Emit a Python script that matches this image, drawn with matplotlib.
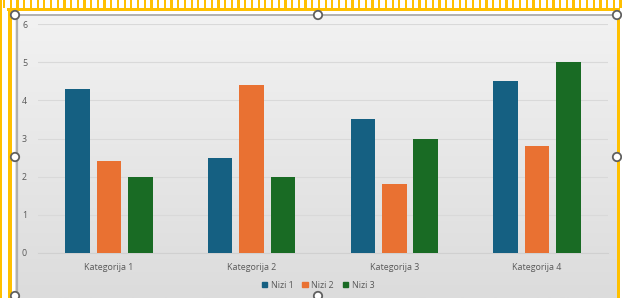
import matplotlib
matplotlib.use("Agg")
import matplotlib.pyplot as plt
import numpy as np
from matplotlib.patches import Rectangle, Circle
from matplotlib.colors import LinearSegmentedColormap

categories = ["Kategorija 1", "Kategorija 2", "Kategorija 3", "Kategorija 4"]
series_names = ["Nizi 1", "Nizi 2", "Nizi 3"]
nizi1 = [4.3, 2.5, 3.5, 4.5]
nizi2 = [2.4, 4.4, 1.8, 2.8]
nizi3 = [2.0, 2.0, 3.0, 5.0]
yticks = [0, 1, 2, 3, 4, 5, 6]
colors = ["#156082", "#E97132", "#196B24"]

plt.rcParams['font.family'] = ['Open Sans', 'DejaVu Sans']

W, H = 622, 298
fig = plt.figure(figsize=(W / 100, H / 100), dpi=100)
fig.patch.set_facecolor("white")

def fx(px):
    return px / W

def fy(py):
    return 1 - py / H

# chart area background gradient
bg = fig.add_axes([fx(15), fy(298), fx(617) - fx(15), fy(15) - fy(298)])
grad = np.linspace(0, 1, 256).reshape(-1, 1)
cmap = LinearSegmentedColormap.from_list("g", ["#f2f2f2", "#dcdcdc"])
bg.imshow(grad, aspect="auto", cmap=cmap, extent=[0, 1, 1, 0])
bg.set_axis_off()

# main axes
ax = fig.add_axes([fx(37.5), fy(253), fx(608.3) - fx(37.5), fy(24) - fy(253)])
ax.patch.set_alpha(0)
x = np.arange(len(categories))
w = 0.172
off = 0.22
for i, (vals, name) in enumerate(zip([nizi1, nizi2, nizi3], series_names)):
    ax.bar(x + (i - 1) * off, vals, width=w, color=colors[i], label=name, zorder=3)
ax.set_xlim(-0.5, 3.5)
ax.set_ylim(0, 6)
ax.set_yticks(yticks)
ax.set_yticklabels([str(t) for t in yticks])
ax.set_xticks(x)
ax.set_xticklabels(categories)
ax.grid(axis="y", color="#d9d9d9", linewidth=0.8, zorder=0)
for s in ["top", "right", "left"]:
    ax.spines[s].set_visible(False)
ax.spines["bottom"].set_color("#d0d0d0")
ax.spines["bottom"].set_linewidth(0.8)
ax.tick_params(axis="both", length=0, labelsize=6.4, labelcolor="#595959")
ax.tick_params(axis="y", pad=7.5)
ax.tick_params(axis="x", pad=7)

leg = fig.legend(handles=[Rectangle((0, 0), 1, 1, color=c) for c in colors],
                 labels=series_names, loc="center", bbox_to_anchor=(fx(318), fy(285)),
                 ncol=3, frameon=False, fontsize=6.4, handlelength=0.6, handleheight=0.6,
                 handletextpad=0.4, columnspacing=1.0)
for t in leg.get_texts():
    t.set_color("#595959")

# selection frame decorations
ov = fig.add_axes([0, 0, 1, 1])
ov.set_xlim(0, W)
ov.set_ylim(H, 0)
ov.set_axis_off()
ov.patch.set_alpha(0)
yellow = "#FFC000"
for xx in np.arange(3, 620, 6.7):
    ov.add_patch(Rectangle((xx, 0), 2.2, 8, color=yellow, lw=0))
ov.add_patch(Rectangle((7, 8), 613, 3, color=yellow, lw=0))
ov.add_patch(Rectangle((0, 0), 2, H, color=yellow, lw=0))
ov.add_patch(Rectangle((8, 8), 4, H, color=yellow, lw=0))
ov.add_patch(Rectangle((617, 8), 3, H, color=yellow, lw=0))
ov.plot([15, 617], [15, 15], color="#b0b0b0", lw=1.4)
ov.plot([16.5, 16.5], [15, 298], color="#b0b0b0", lw=1.6)
for (cx, cy) in [(15, 15), (318, 15), (617, 15), (15, 157), (617, 157), (15, 296), (318, 296)]:
    ov.add_patch(Circle((cx, cy), 4.2, facecolor="white", edgecolor="#606060", lw=1.3, zorder=5))

fig.savefig("out.png", dpi=100)
